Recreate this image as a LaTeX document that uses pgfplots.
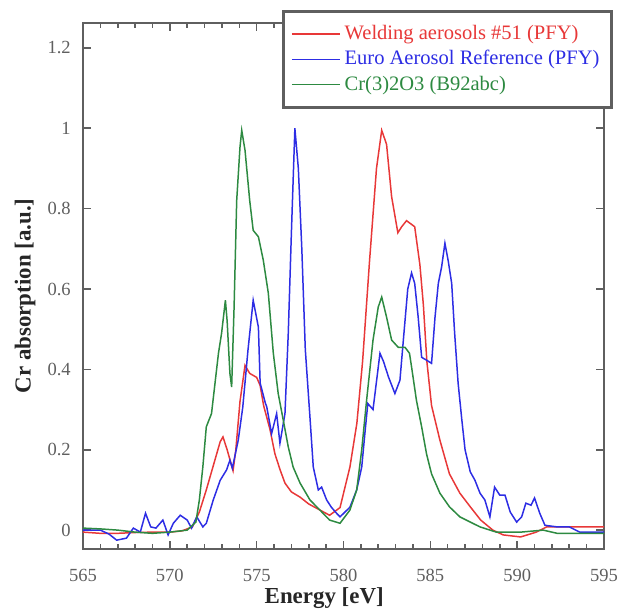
\documentclass[border=0pt]{standalone}
\usepackage{fontspec}
\setmainfont{Liberation Serif}
\usepackage{pgfplots}
\pgfplotsset{compat=1.18}
\definecolor{cRed}{RGB}{232,56,56}
\definecolor{cBlue}{RGB}{45,45,228}
\definecolor{cGreen}{RGB}{45,138,65}
\definecolor{axgray}{RGB}{95,95,95}

\begin{document}
\begin{tikzpicture}
\begin{axis}[
    name=ax,
    scale only axis,
    width=260.5bp, height=263bp,
    xmin=565, xmax=595, ymin=-0.047, ymax=1.262,
    xtick={565,570,...,595}, minor x tick num=4,
    ytick={0,0.2,...,1.2},
    tick align=inside, tick pos=both,
    major tick length=4bp, minor tick length=2.5bp,
    every tick/.style={axgray, line width=0.8pt},
    axis line style={axgray, line width=1pt},
    /pgf/number format/assume math mode=true,
    tick label style={font=\fontsize{9.3}{10}\selectfont, text=axgray},
    xticklabel style={yshift=-6.8bp},
    yticklabel style={xshift=-2.6bp},
    xlabel={\textbf{Energy [eV]}},
    ylabel={\textbf{Cr absorption [a.u.]}},
    label style={font=\fontsize{11.5}{12}\selectfont, text=black!85},
    xlabel style={at={(axis description cs:0.463,-0.093)}, anchor=center},
    ylabel style={at={(axis description cs:-0.111,0.481)}, anchor=center},
    legend style={at={(rel axis cs:1.017,1.025)}, anchor=north east,
        draw=axgray, line width=1.5pt, fill=white,
        font=\fontsize{10.3}{13}\selectfont, row sep=0pt,
        inner xsep=4pt, inner ysep=5pt, cells={anchor=west}},
    legend image code/.code={\draw[#1, line width=0.7pt] (0cm,0cm) -- (0.85cm,0cm);},
    every axis plot/.append style={line width=0.75pt},
]
\addplot[cRed] coordinates {
(565,-0.005) (566,-0.008) (567,-0.008) (568,-0.006) (569,-0.005) (570,-0.005)
(570.7,-0.002) (571.3,0.008) (571.7,0.045) (572.1,0.1) (572.5,0.16) (572.9,0.22)
(573.06,0.232) (573.3,0.2) (573.64,0.148) (573.8,0.2) (574.04,0.32) (574.33,0.41)
(574.6,0.39) (575.0,0.38) (575.2,0.36) (575.4,0.31) (575.77,0.25) (576.05,0.19)
(576.35,0.15) (576.63,0.117) (577.0,0.095) (577.5,0.082) (578.0,0.065) (578.64,0.05)
(579.2,0.037) (579.8,0.056) (580.37,0.157) (580.77,0.266) (581.1,0.42) (581.5,0.67)
(581.9,0.90) (582.2,0.995) (582.48,0.96) (582.77,0.83) (583.13,0.74) (583.35,0.755)
(583.63,0.77) (584.1,0.755) (584.4,0.66) (584.6,0.56) (584.8,0.42) (585.07,0.31)
(585.55,0.224) (586.1,0.14) (586.7,0.092) (587.3,0.058) (587.9,0.025) (588.6,0.0)
(589.2,-0.012) (590.2,-0.017) (591.1,-0.005) (591.7,0.008) (595,0.008)
};
\addlegendentry{\textcolor{cRed}{Welding aerosols \#51 (PFY)}}
\addplot[cBlue] coordinates {
(565,0.0) (566,0.0) (566.5,-0.01) (566.94,-0.025) (567.5,-0.02) (567.9,0.005)
(568.3,-0.005) (568.6,0.042) (568.9,0.008) (569.2,0.005) (569.6,0.025) (569.9,-0.012)
(570.2,0.017) (570.6,0.037) (571.0,0.025) (571.25,0.005) (571.55,0.033) (571.9,0.008)
(572.1,0.017) (572.5,0.075) (572.9,0.124) (573.27,0.15) (573.46,0.174) (573.6,0.154)
(573.94,0.224) (574.2,0.306) (574.5,0.448) (574.8,0.572) (575.1,0.505) (575.2,0.366)
(575.5,0.316) (575.58,0.307) (575.86,0.24) (576.15,0.29) (576.34,0.216) (576.63,0.29)
(576.82,0.49) (577.0,0.74) (577.2,1.0) (577.4,0.90) (577.6,0.70) (577.8,0.45)
(578.07,0.28) (578.26,0.157) (578.55,0.1) (578.74,0.107) (579.03,0.075) (579.3,0.057)
(579.6,0.042) (579.8,0.033) (580.37,0.057) (580.76,0.1) (581.05,0.157) (581.23,0.24)
(581.4,0.315) (581.7,0.3) (582.1,0.44) (582.3,0.42) (582.6,0.38) (582.96,0.34)
(583.25,0.373) (583.5,0.5) (583.7,0.6) (583.92,0.64) (584.1,0.614) (584.3,0.53)
(584.5,0.43) (584.78,0.423) (585.07,0.415) (585.27,0.53) (585.46,0.614) (585.65,0.655)
(585.84,0.714) (586.03,0.67) (586.23,0.614) (586.4,0.49) (586.6,0.366) (586.8,0.28)
(587.0,0.2) (587.3,0.145) (587.57,0.124) (587.86,0.092) (588.14,0.075) (588.43,0.033)
(588.7,0.107) (589.0,0.087) (589.3,0.087) (589.6,0.045) (589.97,0.02) (590.26,0.033)
(590.5,0.067) (590.8,0.062) (591.0,0.08) (591.3,0.042) (591.6,0.012) (592.3,0.008)
(593,0.008) (593.6,-0.005) (595,-0.005)
};
\addlegendentry{\textcolor{cBlue}{Euro Aerosol Reference (PFY)}}
\addplot[cGreen] coordinates {
(565,0.005) (566,0.003) (567,0.0) (568,-0.005) (569,-0.008) (570,-0.005)
(571,0.0) (571.5,0.02) (571.7,0.075) (571.9,0.157) (572.1,0.257) (572.4,0.29)
(572.8,0.44) (572.98,0.49) (573.2,0.572) (573.3,0.52) (573.46,0.39) (573.56,0.356)
(573.7,0.555) (573.85,0.82) (574.04,0.953) (574.14,0.995) (574.33,0.945) (574.6,0.82)
(574.8,0.746) (575.1,0.73) (575.38,0.672) (575.67,0.59) (575.96,0.44) (576.24,0.34)
(576.53,0.274) (576.82,0.207) (577.1,0.157) (577.5,0.117) (578.07,0.075) (578.64,0.05)
(579.2,0.025) (579.8,0.017) (580.37,0.05) (580.76,0.1) (581.05,0.2) (581.33,0.323)
(581.7,0.473) (582.0,0.555) (582.2,0.58) (582.48,0.53) (582.77,0.473) (583.15,0.455)
(583.54,0.455) (583.8,0.44) (583.92,0.406) (584.2,0.323) (584.5,0.257) (584.78,0.19)
(585.07,0.14) (585.55,0.092) (586.1,0.058) (586.7,0.033) (587.3,0.02) (587.86,0.008)
(588.8,-0.005) (590.2,-0.005) (591.5,0.0) (592.3,-0.008) (595,-0.008)
};
\addlegendentry{\textcolor{cGreen}{Cr(3)2O3 (B92abc)}}
\end{axis}
\pgfresetboundingbox
\path[use as bounding box] ([xshift=-41.5bp,yshift=-32bp]ax.south west)
    rectangle ([xshift=7.5bp,yshift=11.5bp]ax.north east);
\end{tikzpicture}
\end{document}
